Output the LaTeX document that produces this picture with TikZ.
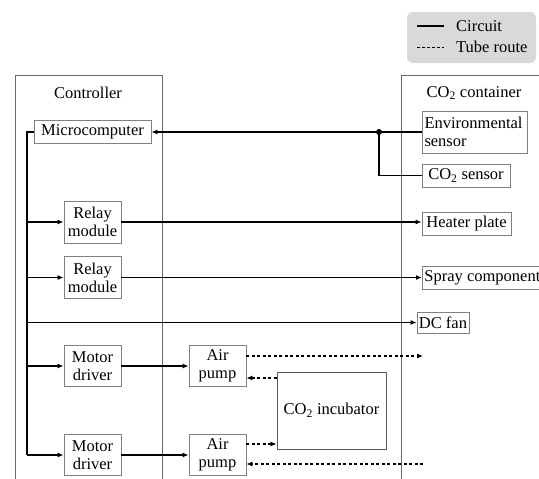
\documentclass[tikz,border=0pt]{standalone}
\usepackage{fontspec}
\setmainfont{Liberation Serif}
\usetikzlibrary{arrows.meta}
\begin{document}
\begin{tikzpicture}[x=1pt,y=-1pt,
  font=\fontsize{16.5}{18}\selectfont,
  box/.style={draw=black!50,line width=0.8pt,inner sep=2pt,align=center},
  conn/.style={line width=1.2pt},
  arr/.style={conn,-{Latex[length=6pt,width=5pt]}},
  tube/.style={line width=1.1pt,dash pattern=on 3pt off 2.5pt},
  tubearr/.style={tube,-{Latex[length=6pt,width=5pt]}},
  frame/.style={draw=black!60,line width=0.9pt}]
\useasboundingbox (0,0) rectangle (539,479);
% legend
\draw[fill=black!15,draw=none,rounded corners=6pt] (407,12) rectangle (536,63);
\coordinate (l1a) at (417,26); \coordinate (l1b) at (444,26);
\coordinate (l2a) at (417,47); \coordinate (l2b) at (444,47);
\draw[conn] (l1a) -- (l1b);
\draw[line width=1pt,dash pattern=on 3pt off 2pt] (l2a) -- (l2b);
\node[anchor=west,inner sep=0] (lc) at (456,26) {Circuit};
\node[anchor=west,inner sep=0] (lt) at (456,47) {Tube route};
% frames
\draw[frame] (15,479) -- (15,75) -- (162,75) -- (162,479);
\draw[frame] (401,479) -- (401,75) -- (539,75);
\node (ctrl) at (88,93) {Controller};
\node (cont) at (474,93) {CO\textsubscript{2} container};
% nodes
\node[box,minimum width=117pt,minimum height=23pt] (micro) at (92.5,132) {Microcomputer};
\node[box,minimum width=105pt,minimum height=42pt,align=left,text width=100pt] (env) at (474.5,132) {Environmental\\sensor};
\node[box,minimum width=88pt,minimum height=23pt] (co2s) at (466,175.5) {CO\textsubscript{2} sensor};
\node[box,minimum width=57pt,minimum height=42pt] (relay1) at (92.5,222) {Relay\\module};
\node[box,minimum width=57pt,minimum height=42pt] (relay2) at (92.5,277.5) {Relay\\module};
\node[box,minimum width=89pt,minimum height=23pt] (heater) at (466.5,223.5) {Heater plate};
\node[box,minimum height=23pt,anchor=west] (spray) at (422,277.5) {Spray component};
\node[box,minimum width=42pt,minimum height=21pt] (dcfan) at (443,322.5) {DC fan};
\node[box,minimum width=57pt,minimum height=41pt] (motor1) at (92.5,366) {Motor\\driver};
\node[box,minimum width=57pt,minimum height=41pt] (pump1) at (217.5,366) {Air\\pump};
\node[box,minimum width=57pt,minimum height=41pt] (motor2) at (92.5,455) {Motor\\driver};
\node[box,minimum width=57pt,minimum height=41pt] (pump2) at (217.5,455) {Air\\pump};
\node[box,draw=black!65,minimum width=109pt,minimum height=77pt] (incub) at (331.5,410.5) {CO\textsubscript{2} incubator};
% sensor connections
\coordinate (j) at (379,132);
\draw[arr] (env.west) -- (micro.east);
\draw[conn] (j) |- (co2s.west);
\fill (j) circle (3pt);
% bus
\coordinate (b0) at (27,132);
\coordinate (bR1) at (27,222);
\coordinate (bR2) at (27,277.5);
\coordinate (bF) at (27,322.5);
\coordinate (bM1) at (27,366);
\coordinate (bM2) at (27,455);
\draw[conn] (micro.west) -- (b0) -- (bM2);
\draw[arr] (bR1) -- (relay1.west);
\draw[arr] (bR2) -- (relay2.west);
\draw[arr] (bF) -- (dcfan.west);
\draw[arr] (bM1) -- (motor1.west);
\draw[arr] (bM2) -- (motor2.west);
\draw[arr] (relay1.east) -- (relay1.east -| heater.west);
\draw[arr] (relay2.east) -- (spray.west);
\draw[arr] (motor1.east) -- (pump1.west);
\draw[arr] (motor2.east) -- (pump2.west);
% tubes
\coordinate (t1) at (423,356);
\coordinate (t2) at (423,464);
\draw[tubearr] (pump1.east |- t1) -- (t1);
\draw[tubearr] (incub.west |- 0,378) -- (pump1.east |- 0,378);
\draw[tubearr] (pump2.east |- 0,444) -- (incub.west |- 0,444);
\draw[tubearr] (t2) -- (pump2.east |- t2);
\end{tikzpicture}
\end{document}
